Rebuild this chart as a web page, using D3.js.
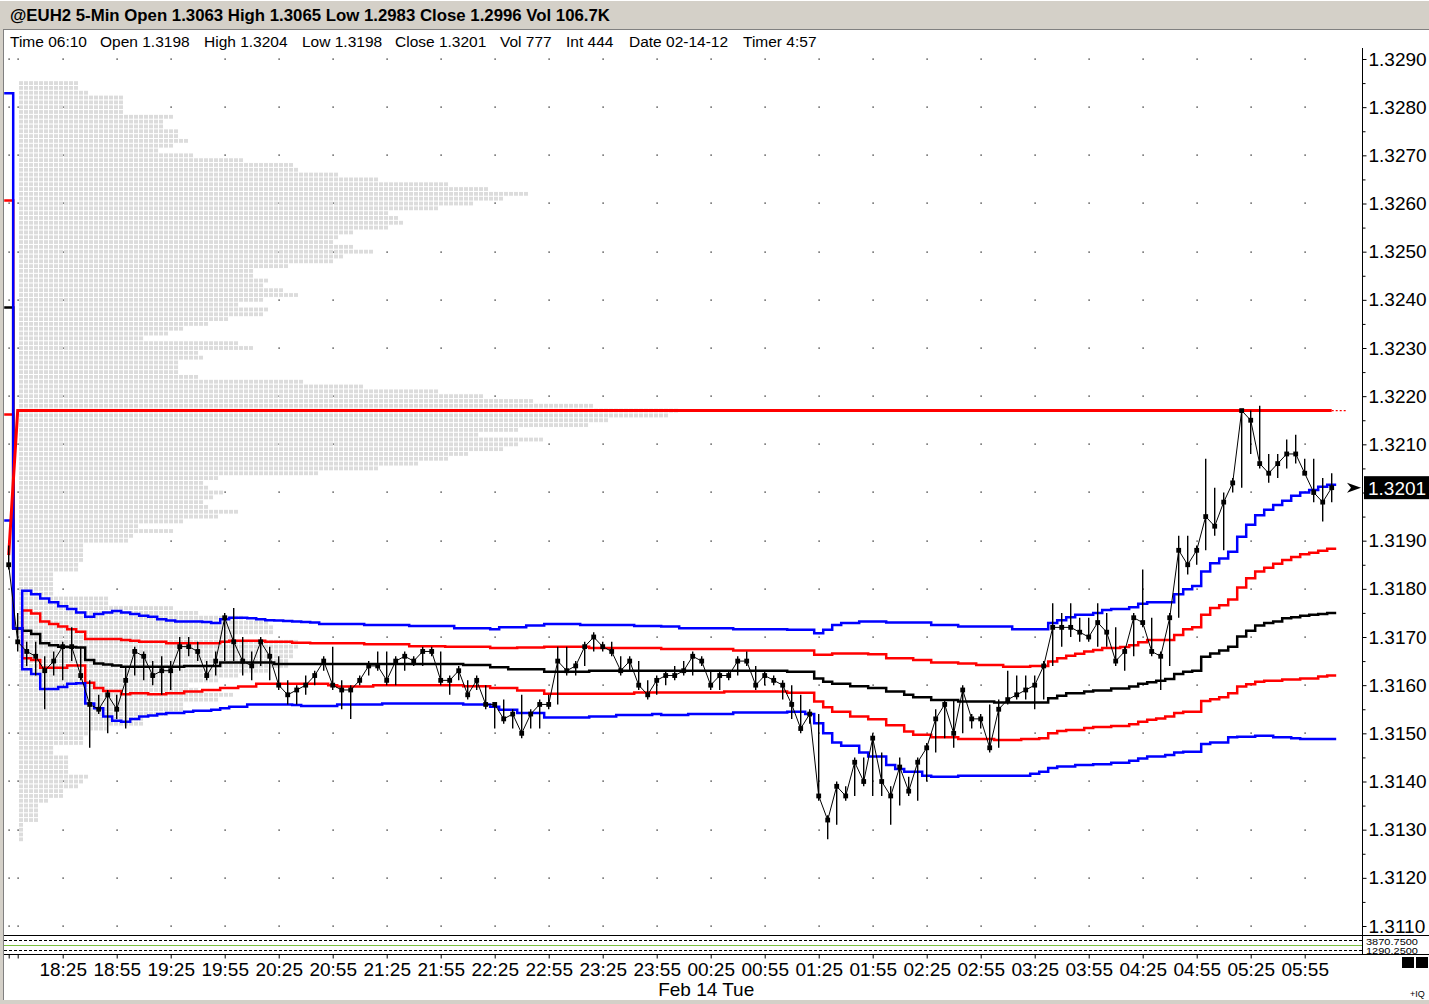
<!DOCTYPE html>
<html><head><meta charset="utf-8">
<script src="https://cdn.jsdelivr.net/npm/d3@7/dist/d3.min.js"></script>
<style>
html,body{margin:0;padding:0;background:#fff;overflow:hidden;}
svg{display:block;font-family:"Liberation Sans",Arial,sans-serif;}
</style></head><body>
<svg id="chart" width="1429" height="1004"></svg>
<script>
// ---------------- DATA ----------------
const headerText = "@EUH2 5-Min Open 1.3063 High 1.3065 Low 1.2983 Close 1.2996 Vol 106.7K";
const dataWindowItems = ["Time 06:10","Open 1.3198","High 1.3204","Low 1.3198","Close 1.3201","Vol 777","Int 444","Date 02-14-12","Timer 4:57"];
const firstBarTime = "17:55";
const barMinutes = 5;
const timeLabels = ["18:25","18:55","19:25","19:55","20:25","20:55","21:25","21:55","22:25","22:55","23:25","23:55","00:25","00:55","01:25","01:55","02:25","02:55","03:25","03:55","04:25","04:55","05:25","05:55"];
const extraTimeTicks = ["17:55","18:00"];
const dateLabel = "Feb 14 Tue";
const priceTicks = [1.3110,1.3120,1.3130,1.3140,1.3150,1.3160,1.3170,1.3180,1.3190,1.3200,1.3210,1.3220,1.3230,1.3240,1.3250,1.3260,1.3270,1.3280,1.3290];
const lastPrice = 1.3201;
const lowerPanelLabels = ["3870.7500","1290.2500"];

const closes = [
1.3185,1.3169,1.3167,1.3166,1.3163,1.3165,1.3168,1.3168,1.3162,1.3156,
1.3155,1.3158,1.3155,1.3161,1.3167,1.3166,1.3162,1.3163,1.3163,1.3168,
1.3168,1.3167,1.3162,1.3165,1.3174,1.3169,1.3165,1.3164,1.3169,1.3166,
1.3160,1.3158,1.3159,1.3160,1.3162,1.3165,1.3160,1.3159,1.3159,1.3161,
1.3164,1.3164,1.3161,1.3165,1.3166,1.3165,1.3167,1.3167,1.3161,1.3161,
1.3163,1.3158,1.3161,1.3156,1.3156,1.3153,1.3154,1.3150,1.3154,1.3156,
1.3156,1.3165,1.3163,1.3164,1.3168,1.3170,1.3168,1.3167,1.3163,1.3165,
1.3160,1.3158,1.3161,1.3162,1.3162,1.3163,1.3166,1.3165,1.3160,1.3162,
1.3162,1.3165,1.3165,1.3160,1.3162,1.3161,1.3160,1.3156,1.3151,1.3154,
1.3137,1.3132,1.3139,1.3137,1.3144,1.3140,1.3149,1.3140,1.3137,1.3143,
1.3138,1.3144,1.3147,1.3153,1.3156,1.3150,1.3159,1.3153,1.3153,1.3147,
1.3155,1.3157,1.3158,1.3159,1.3160,1.3164,1.3172,1.3172,1.3172,1.3171,
1.3170,1.3173,1.3171,1.3165,1.3167,1.3174,1.3173,1.3167,1.3166,1.3174,
1.3188,1.3185,1.3188,1.3195,1.3193,1.3198,1.3202,1.3217,1.3215,1.3206,
1.3204,1.3206,1.3208,1.3208,1.3204,1.3200,1.3198,1.3201];
const highs = [
1.3189,1.3175,1.3169,1.3169,1.3166,1.3167,1.3169,1.3172,1.3168,1.3161,
1.3158,1.3159,1.3158,1.3164,1.3168,1.3167,1.3165,1.3166,1.3165,1.3170,
1.3170,1.3169,1.3165,1.3167,1.3175,1.3176,1.3170,1.3167,1.3170,1.3168,
1.3166,1.3161,1.3160,1.3162,1.3163,1.3166,1.3168,1.3161,1.3160,1.3162,
1.3165,1.3167,1.3167,1.3166,1.3167,1.3166,1.3168,1.3168,1.3167,1.3162,
1.3164,1.3161,1.3162,1.3160,1.3156,1.3157,1.3155,1.3158,1.3155,1.3157,
1.3158,1.3168,1.3168,1.3165,1.3169,1.3171,1.3169,1.3169,1.3166,1.3166,
1.3165,1.3161,1.3162,1.3163,1.3164,1.3165,1.3167,1.3166,1.3163,1.3163,
1.3163,1.3166,1.3167,1.3164,1.3163,1.3162,1.3161,1.3160,1.3158,1.3155,
1.3154,1.3133,1.3140,1.3139,1.3145,1.3145,1.3150,1.3146,1.3139,1.3145,
1.3141,1.3145,1.3148,1.3155,1.3157,1.3157,1.3160,1.3154,1.3154,1.3156,
1.3157,1.3163,1.3162,1.3162,1.3162,1.3165,1.3177,1.3175,1.3177,1.3174,
1.3174,1.3177,1.3175,1.3172,1.3168,1.3175,1.3184,1.3174,1.3167,1.3175,
1.3191,1.3191,1.3189,1.3207,1.3201,1.3200,1.3203,1.3217,1.3217,1.3218,
1.3208,1.3208,1.3211,1.3212,1.3207,1.3207,1.3203,1.3204];
const lows = [
1.3184,1.3167,1.3164,1.3162,1.3155,1.3162,1.3161,1.3165,1.3161,1.3147,
1.3154,1.3150,1.3153,1.3151,1.3162,1.3161,1.3160,1.3158,1.3159,1.3163,
1.3166,1.3165,1.3161,1.3162,1.3165,1.3165,1.3162,1.3161,1.3164,1.3161,
1.3159,1.3156,1.3156,1.3158,1.3160,1.3163,1.3159,1.3155,1.3153,1.3160,
1.3162,1.3163,1.3160,1.3160,1.3163,1.3164,1.3164,1.3166,1.3160,1.3158,
1.3161,1.3157,1.3159,1.3155,1.3151,1.3152,1.3151,1.3149,1.3151,1.3151,
1.3155,1.3156,1.3162,1.3162,1.3164,1.3167,1.3167,1.3166,1.3162,1.3163,
1.3159,1.3157,1.3158,1.3160,1.3161,1.3162,1.3162,1.3164,1.3159,1.3159,
1.3161,1.3162,1.3164,1.3159,1.3160,1.3160,1.3157,1.3153,1.3150,1.3152,
1.3136,1.3128,1.3131,1.3136,1.3137,1.3139,1.3137,1.3137,1.3131,1.3135,
1.3137,1.3136,1.3140,1.3146,1.3149,1.3147,1.3150,1.3151,1.3151,1.3146,
1.3147,1.3156,1.3157,1.3157,1.3155,1.3157,1.3164,1.3168,1.3170,1.3169,
1.3169,1.3168,1.3168,1.3164,1.3163,1.3166,1.3172,1.3166,1.3159,1.3164,
1.3174,1.3183,1.3185,1.3188,1.3191,1.3188,1.3200,1.3201,1.3208,1.3205,
1.3202,1.3203,1.3205,1.3206,1.3204,1.3198,1.3194,1.3198];

// Session high line: [first bar index, value]
const sessionHigh = [[0,1.3187],[1,1.3217]];

// VWAP and deviation bands as step runs: [first bar index, value]
const upperBlue = [[0,1.32829],[1,1.31718],[2,1.31796],[3,1.31789],[4,1.31780],[5,1.31772],[6,1.31764],[7,1.31758],[8,1.31751],[9,1.31742],[10,1.31748],[11,1.31751],[12,1.31754],[13,1.31751],[14,1.31748],[15,1.31744],[16,1.31742],[17,1.31737],[18,1.31734],[19,1.31732],[22,1.31731],[23,1.31729],[24,1.31737],[25,1.31740],[27,1.31739],[28,1.31737],[29,1.31735],[30,1.31734],[31,1.31733],[32,1.31732],[33,1.31731],[34,1.31730],[35,1.31727],[40,1.31725],[45,1.31723],[50,1.31718],[54,1.31716],[55,1.31720],[58,1.31724],[60,1.31727],[64,1.31725],[70,1.31723],[73,1.31722],[75,1.31718],[81,1.31716],[87,1.31715],[90,1.31708],[91,1.31715],[92,1.31725],[93,1.31729],[95,1.31732],[98,1.31730],[103,1.31725],[106,1.31722],[112,1.31716],[116,1.31729],[117,1.31735],[118,1.31741],[119,1.31746],[121,1.31750],[122,1.31756],[123,1.31758],[125,1.31762],[126,1.31769],[127,1.31772],[130,1.31789],[131,1.31799],[132,1.31806],[133,1.31836],[134,1.31853],[135,1.31863],[136,1.31877],[137,1.31908],[138,1.31933],[139,1.31953],[140,1.31964],[141,1.31974],[142,1.31983],[143,1.31993],[144,1.32000],[145,1.32005],[146,1.32012],[147,1.32016]];
const upperRed = [[0,1.32606],[1,1.31718],[2,1.31755],[3,1.31749],[4,1.31732],[5,1.31727],[6,1.31722],[7,1.31716],[8,1.31711],[9,1.31696],[13,1.31694],[14,1.31692],[15,1.31690],[18,1.31687],[24,1.31690],[25,1.31692],[29,1.31690],[32,1.31688],[34,1.31687],[40,1.31685],[45,1.31681],[49,1.31680],[54,1.31677],[57,1.31678],[60,1.31680],[65,1.31677],[73,1.31675],[81,1.31672],[90,1.31663],[92,1.31666],[96,1.31664],[98,1.31656],[101,1.31652],[103,1.31647],[106,1.31645],[108,1.31642],[111,1.31638],[114,1.31640],[116,1.31649],[117,1.31656],[118,1.31661],[119,1.31665],[120,1.31670],[121,1.31673],[122,1.31677],[124,1.31679],[125,1.31683],[126,1.31689],[127,1.31694],[130,1.31704],[131,1.31716],[132,1.31720],[133,1.31746],[134,1.31760],[135,1.31766],[136,1.31778],[137,1.31803],[138,1.31822],[139,1.31836],[140,1.31844],[141,1.31852],[142,1.31860],[143,1.31866],[144,1.31872],[145,1.31875],[146,1.31879],[147,1.31883]];
const vwap = [[0,1.32384],[1,1.31718],[2,1.31713],[3,1.31706],[4,1.31687],[5,1.31683],[6,1.31680],[7,1.31679],[8,1.31678],[9,1.31652],[10,1.31645],[11,1.31643],[12,1.31641],[13,1.31638],[20,1.31640],[24,1.31647],[30,1.31644],[51,1.31642],[54,1.31637],[56,1.31633],[60,1.31628],[65,1.31630],[87,1.31628],[90,1.31614],[91,1.31607],[92,1.31603],[94,1.31598],[96,1.31594],[98,1.31587],[100,1.31580],[101,1.31575],[103,1.31569],[106,1.31566],[110,1.31564],[116,1.31573],[117,1.31578],[118,1.31583],[120,1.31587],[121,1.31589],[123,1.31593],[125,1.31597],[126,1.31603],[127,1.31606],[128,1.31609],[129,1.31613],[130,1.31623],[131,1.31628],[132,1.31630],[133,1.31659],[134,1.31666],[135,1.31672],[136,1.31680],[137,1.31701],[138,1.31713],[139,1.31724],[140,1.31729],[141,1.31732],[142,1.31739],[143,1.31741],[144,1.31744],[145,1.31746],[146,1.31748],[147,1.31750]];
const lowerRed = [[0,1.32162],[1,1.31718],[2,1.31656],[3,1.31652],[4,1.31636],[7,1.31641],[9,1.31605],[10,1.31594],[11,1.31588],[13,1.31581],[14,1.31583],[16,1.31581],[18,1.31583],[20,1.31587],[22,1.31590],[24,1.31594],[26,1.31597],[28,1.31603],[36,1.31600],[37,1.31597],[41,1.31600],[51,1.31598],[54,1.31594],[57,1.31589],[60,1.31582],[70,1.31585],[80,1.31587],[87,1.31584],[90,1.31566],[91,1.31554],[92,1.31545],[94,1.31535],[96,1.31529],[98,1.31517],[100,1.31504],[101,1.31497],[103,1.31492],[106,1.31488],[110,1.31486],[113,1.31488],[115,1.31490],[116,1.31500],[117,1.31505],[118,1.31507],[120,1.31511],[121,1.31513],[123,1.31515],[125,1.31519],[126,1.31524],[127,1.31528],[128,1.31531],[129,1.31535],[130,1.31542],[131,1.31545],[133,1.31567],[134,1.31571],[135,1.31575],[136,1.31583],[137,1.31597],[138,1.31602],[139,1.31607],[140,1.31609],[142,1.31612],[144,1.31614],[146,1.31618],[147,1.31620]];
const lowerBlue = [[0,1.31942],[1,1.31718],[2,1.31633],[3,1.31623],[4,1.31592],[6,1.31596],[7,1.31603],[8,1.31604],[9,1.31562],[10,1.31552],[11,1.31535],[12,1.31526],[13,1.31524],[14,1.31530],[15,1.31535],[16,1.31537],[17,1.31540],[18,1.31542],[20,1.31545],[21,1.31547],[23,1.31549],[24,1.31552],[25,1.31555],[27,1.31560],[32,1.31559],[33,1.31557],[37,1.31560],[42,1.31562],[51,1.31560],[54,1.31555],[55,1.31549],[57,1.31542],[60,1.31533],[65,1.31535],[68,1.31538],[72,1.31540],[73,1.31538],[76,1.31540],[81,1.31543],[87,1.31545],[89,1.31540],[90,1.31521],[91,1.31500],[92,1.31481],[93,1.31474],[95,1.31460],[96,1.31452],[98,1.31434],[99,1.31426],[100,1.31420],[102,1.31412],[103,1.31410],[106,1.31412],[114,1.31416],[115,1.31420],[116,1.31428],[117,1.31431],[119,1.31434],[121,1.31436],[123,1.31439],[125,1.31443],[126,1.31448],[127,1.31452],[129,1.31455],[130,1.31460],[131,1.31462],[133,1.31478],[134,1.31481],[136,1.31492],[137,1.31493],[139,1.31495],[141,1.31492],[143,1.31490],[144,1.31488]];

// Volume profile: one row per price tick, from profileTop downward
const profileTop = 1.3285;
const profileTick = 0.0001;
const profileCounts = [
12,12,14,21,21,21,21,31,29,29,
32,32,34,31,28,35,45,55,56,64,
72,86,94,102,97,91,84,74,76,77,
74,67,64,63,67,71,65,63,54,47,
47,50,49,53,56,49,44,50,49,42,
38,33,30,25,44,47,36,37,32,32,
32,36,57,69,84,93,103,115,132,130,
118,114,100,92,105,100,97,90,86,80,
72,60,40,37,38,41,39,37,38,44,
40,33,24,31,23,22,13,13,13,13,
12,12,7,7,7,7,7,18,18,31,
36,45,50,51,51,43,56,56,55,55,
54,54,50,44,40,34,36,43,40,33,
33,30,25,25,18,14,13,13,7,7,
10,10,10,10,14,13,12,9,9,6,
4,4,4,4,1,1,1,1];

// ---------------- HELPERS ----------------
function expandRuns(runs, n){
  const out=[]; let r=0;
  for(let i=0;i<n;i++){ while(r+1<runs.length && runs[r+1][0]<=i) r++; out.push(runs[r][1]); }
  return out;
}
function toMin(t){ const [h,m]=t.split(":").map(Number); return h*60+m; }
function barIndexOf(t){ let d = toMin(t)-toMin(firstBarTime); if(d<0) d+=1440; return d/barMinutes; }

const N = closes.length;
const svg = d3.select("#chart");
const W = 1429, H = 1004;
const axisX = 1362;

const xS = d3.scaleLinear().domain([0, N-1]).range([8.7, 8.7 + 9*(N-1)]);
const yS = d3.scaleLinear().domain([1.3110, 1.3290]).range([926, 59]);
const pX = d3.scaleLinear().domain([0, 1]).range([19, 24]);

// ---------------- FRAME ----------------
svg.append("rect").attr("x",0).attr("y",0).attr("width",W).attr("height",H).attr("fill","#fff");
svg.append("rect").attr("x",0).attr("y",0).attr("width",W).attr("height",29).attr("fill","#d4d0c8");
svg.append("line").attr("x1",0).attr("x2",W).attr("y1",0.5).attr("y2",0.5).attr("stroke","#ffffff");
svg.append("line").attr("x1",3).attr("x2",W).attr("y1",29.5).attr("y2",29.5).attr("stroke","#808080");
svg.append("rect").attr("x",0).attr("y",29).attr("width",3).attr("height",H-29).attr("fill","#d4d0c8");
svg.append("line").attr("x1",3.5).attr("x2",3.5).attr("y1",29).attr("y2",H).attr("stroke","#808080");
svg.append("rect").attr("x",0).attr("y",1000).attr("width",W).attr("height",4).attr("fill","#d4d0c8");

svg.append("text").attr("x",10).attr("y",21).attr("font-size",16.8).attr("font-weight","bold")
  .attr("fill","#000").text(headerText);

const dwX = [10,100,204,302,395,500,566,629,743];
svg.append("g").selectAll("text").data(dataWindowItems).join("text")
  .attr("x",(d,i)=>dwX[i]).attr("y",47).attr("font-size",15.5).attr("fill","#000").text(d=>d);

// ---------------- GRID DOTS ----------------
const gridBars = extraTimeTicks.concat(timeLabels).map(barIndexOf);
const dots = [];
gridBars.forEach(b => priceTicks.forEach(p => dots.push([b,p])));
svg.append("g").selectAll("rect").data(dots).join("rect")
  .attr("x",d=>Math.round(xS(d[0]))-0.5).attr("y",d=>Math.round(yS(d[1]))-0.5)
  .attr("width",1.2).attr("height",1.2).attr("fill","#000");

// ---------------- VOLUME PROFILE ----------------
const defs = svg.append("defs");
const pat = defs.append("pattern").attr("id","cells").attr("patternUnits","userSpaceOnUse")
  .attr("x",pX(0)).attr("y",0).attr("width",pX(1)-pX(0)).attr("height",H);
pat.append("rect").attr("x",0).attr("y",0).attr("width",pX(1)-pX(0)-1).attr("height",H).attr("fill","#dcdcdc");

const profileRows = profileCounts.map((c,k)=>({price: profileTop - k*profileTick, count:c}));
svg.append("g").selectAll("rect").data(profileRows).join("rect")
  .attr("x",pX(0)).attr("y",d=>yS(d.price)-1.9)
  .attr("width",d=>pX(d.count)-pX(0)-1).attr("height",3.8)
  .attr("fill","url(#cells)");

// ---------------- BANDS ----------------
function stepPath(runs){
  const v = expandRuns(runs, N);
  const pts = v.map((d,i)=>[xS(i-0.5), yS(d)]);
  pts.push([xS(N-0.5), yS(v[N-1])]);
  return d3.line().curve(d3.curveStepAfter)(pts);
}
const bandG = svg.append("g").attr("fill","none").attr("stroke-width",2.5);
[[upperRed,"#ff0000"],[lowerRed,"#ff0000"],[vwap,"#000000"],[upperBlue,"#0000ff"],[lowerBlue,"#0000ff"]]
  .forEach(([r,c])=> bandG.append("path").attr("d",stepPath(r)).attr("stroke",c));

// session high line
const hv = expandRuns(sessionHigh, N);
svg.append("path").attr("fill","none").attr("stroke","#ff0000").attr("stroke-width",3)
  .attr("d", d3.line()(hv.map((v,i)=>[xS(i), yS(v)])));
svg.append("path").attr("fill","none").attr("stroke","#ff0000").attr("stroke-width",1.2)
  .attr("stroke-dasharray","2,2")
  .attr("d", d3.line()([[xS(N-1), yS(hv[N-1])],[xS(N+0.7), yS(hv[N-1])]]));

// ---------------- PRICE BARS ----------------
const pg = svg.append("g");
pg.selectAll("line").data(d3.range(N)).join("line")
  .attr("x1",i=>xS(i)).attr("x2",i=>xS(i))
  .attr("y1",i=>yS(highs[i])).attr("y2",i=>yS(lows[i]))
  .attr("stroke","#000").attr("stroke-width",1.4);
pg.append("path").attr("fill","none").attr("stroke","#000").attr("stroke-width",1)
  .attr("d", d3.line()(closes.map((c,i)=>[xS(i), yS(c)])));
pg.selectAll("rect").data(closes).join("rect")
  .attr("x",(c,i)=>xS(i)-2.4).attr("y",c=>yS(c)-2.4)
  .attr("width",4.8).attr("height",4.8).attr("fill","#000");

// ---------------- RIGHT AXIS ----------------
const ly = yS(lastPrice);
svg.append("line").attr("x1",axisX+0.5).attr("x2",axisX+0.5).attr("y1",48).attr("y2",955).attr("stroke","#000");
const minorTicks = priceTicks.slice(0,-1).map((p,i)=>(p+priceTicks[i+1])/2);
const ax = svg.append("g").attr("transform",`translate(${axisX+0.5},0)`)
  .call(d3.axisRight(yS).tickValues(priceTicks).tickSize(4).tickPadding(2).tickFormat(d3.format(".4f")));
ax.select(".domain").remove();
ax.selectAll("text").attr("font-size",19).attr("font-family","Liberation Sans, Arial, sans-serif").attr("fill","#000");
ax.selectAll("line").attr("stroke","#000");
// the label hidden behind the last-price box in the reference is not drawn
ax.selectAll(".tick").filter(d => Math.abs(yS(d) - ly) < 14).select("text").remove();
const axm = svg.append("g").attr("transform",`translate(${axisX+0.5},0)`)
  .call(d3.axisRight(yS).tickValues(minorTicks).tickSize(3).tickFormat(""));
axm.select(".domain").remove();
axm.selectAll("line").attr("stroke","#000");

// last price marker
svg.append("rect").attr("x",1364).attr("y",ly-11.5).attr("width",65).attr("height",23).attr("fill","#000");
svg.append("text").attr("x",1368).attr("y",ly+7).attr("font-size",19).attr("fill","#fff").text(d3.format(".4f")(lastPrice));
svg.append("path").attr("fill","#000")
  .attr("d",`M1347,${ly-5} L1361,${ly} L1347,${ly+5} L1351,${ly} Z`);

// ---------------- LOWER PANEL ----------------
svg.append("line").attr("x1",4).attr("x2",W).attr("y1",935.5).attr("y2",935.5).attr("stroke","#000");
svg.append("line").attr("x1",4).attr("x2",axisX).attr("y1",940.5).attr("y2",940.5).attr("stroke","#000").attr("stroke-dasharray","3,2");
svg.append("line").attr("x1",4).attr("x2",axisX).attr("y1",945.5).attr("y2",945.5).attr("stroke","#7cc040");
svg.append("line").attr("x1",4).attr("x2",axisX).attr("y1",950.5).attr("y2",950.5).attr("stroke","#000").attr("stroke-dasharray","3,2");
svg.append("line").attr("x1",4).attr("x2",W).attr("y1",954.5).attr("y2",954.5).attr("stroke","#000");
svg.append("g").selectAll("text").data(lowerPanelLabels).join("text")
  .attr("x",1366).attr("y",(d,i)=>944.5+i*9).attr("font-size",8.5)
  .attr("textLength",52).attr("lengthAdjust","spacingAndGlyphs").attr("fill","#000").text(d=>d);

// ---------------- TIME AXIS ----------------
const tickBars = extraTimeTicks.concat(timeLabels);
const tx = svg.append("g").attr("transform","translate(0,954.5)")
  .call(d3.axisBottom(xS).tickValues(tickBars.map(barIndexOf)).tickSize(4).tickPadding(4)
    .tickFormat((d,i)=> i < extraTimeTicks.length ? "" : tickBars[i]));
tx.select(".domain").remove();
tx.selectAll("text").attr("font-size",19).attr("font-family","Liberation Sans, Arial, sans-serif").attr("fill","#000");
tx.selectAll("line").attr("stroke","#000");
svg.append("text").attr("x",xS(77.5)).attr("y",996).attr("text-anchor","middle").attr("font-size",19).attr("fill","#000").text(dateLabel);

// bottom-right widgets
svg.append("rect").attr("x",1402).attr("y",957).attr("width",12).attr("height",11).attr("fill","#000");
svg.append("rect").attr("x",1416).attr("y",957).attr("width",12).attr("height",11).attr("fill","#000");
svg.append("text").attr("x",1410).attr("y",997).attr("font-size",9).attr("fill","#000").text("+IQ");
</script>
</body></html>
